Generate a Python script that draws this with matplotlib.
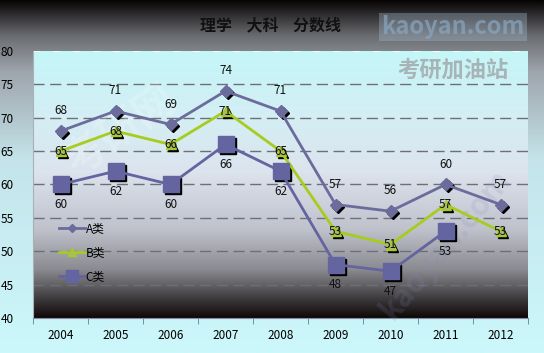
import matplotlib.pyplot as plt
import numpy as np
from matplotlib.colors import LinearSegmentedColormap
from matplotlib.transforms import offset_copy

plt.rcParams['font.family'] = ['Noto Sans CJK SC', 'DejaVu Sans']

years = ['2004', '2005', '2006', '2007', '2008', '2009', '2010', '2011', '2012']
a_scores = [68, 71, 69, 74, 71, 57, 56, 60, 57]
b_scores = [65, 68, 66, 71, 65, 53, 51, 57, 53]
c_scores = [60, 62, 60, 66, 62, 48, 47, 53, None]

fig = plt.figure(figsize=(5.44, 3.53), dpi=100)

# figure background gradient: dark top -> light cyan bottom
bg = fig.add_axes([0, 0, 1, 1], zorder=-10)
bg_cmap = LinearSegmentedColormap.from_list('bg', [(0, '#080404'), (0.1, '#6a6c70'),
                                                   (0.2, '#9ea4ac'), (0.45, '#c4e4ea'),
                                                   (1.0, '#ccf8fb')])
bg.imshow(np.linspace(0, 1, 256)[:, None], aspect='auto', cmap=bg_cmap, extent=[0, 1, 0, 1])
bg.set_axis_off()

ax = fig.add_axes([33 / 544, 1 - 318 / 353, 495 / 544, 267 / 353])
x = np.arange(len(years))
ax.set_xlim(-0.5, len(years) - 0.5)
ax.set_ylim(40, 80)

pa_cmap = LinearSegmentedColormap.from_list('pa', [(0, '#100808'), (0.07, '#3c3a3c'),
                                                   (0.18, '#8a8a90'), (0.33, '#bfc1cb'),
                                                   (0.55, '#dce4ee'), (0.75, '#d4eef4'),
                                                   (1.0, '#c4f6f8')])
ax.imshow(np.linspace(0, 1, 256)[:, None], aspect='auto', cmap=pa_cmap, origin='lower',
          extent=[-0.5, len(years) - 0.5, 40, 80], zorder=0)

for yv in range(45, 80, 5):
    ax.axhline(yv, color='#6e6e78', lw=1, ls=(0, (8, 4)), zorder=1)
ax.axhline(80, color='white', lw=1.2, ls=(0, (4, 8)), zorder=1)

# diagonal watermarks
ax.text(1.1, 68, '考研网', fontsize=30, rotation=35, color='white', alpha=0.2,
        ha='center', va='center', fontweight='bold', zorder=1)
ax.text(7.0, 51, 'kaoyan.com', fontsize=22, rotation=50, color='#8888bb', alpha=0.16,
        ha='center', va='center', fontweight='bold', zorder=1)

ca = '#6c6c9c'
cb = '#a6cc1e'
cc = '#6464a0'
cx = [i for i, v in enumerate(c_scores) if v is not None]
cv = [v for v in c_scores if v is not None]

# marker shadows
sh = offset_copy(ax.transData, fig=fig, x=2, y=-2, units='dots')
ax.plot(x, a_scores, ls='none', marker='D', ms=6, color='black', transform=sh, zorder=2)
ax.plot(x, b_scores, ls='none', marker='^', ms=7, color='black', transform=sh, zorder=2)
ax.plot(cx, cv, ls='none', marker='s', ms=12, color='black', transform=sh, zorder=2)

ax.plot(x, a_scores, color=ca, lw=2, marker='D', ms=6, mfc=ca, mec=ca, zorder=3, label='A类')
ax.plot(x, b_scores, color=cb, lw=2, marker='^', ms=7, mfc='#aabb66', mec=cb, zorder=3, label='B类')
ax.plot(cx, cv, color=cc, lw=2, marker='s', ms=12, mfc=cc, mec=cc, zorder=3, label='C类')

for i, v in enumerate(a_scores):
    ax.annotate(str(v), (i, v), xytext=(0, 10), textcoords='offset points',
                ha='center', va='bottom', fontsize=8.5, color='#111111', zorder=4)
for i, v in enumerate(b_scores):
    ax.annotate(str(v), (i, v), xytext=(0, 0), textcoords='offset points',
                ha='center', va='center', fontsize=8.5, color='#111111', zorder=4)
for i, v in zip(cx, cv):
    ax.annotate(str(v), (i, v), xytext=(0, -10), textcoords='offset points',
                ha='center', va='top', fontsize=8.5, color='#111111', zorder=4)

ax.set_xticks(x)
ax.set_xticklabels(years, fontsize=8.5)
ax.set_xticks(np.arange(-0.5, len(years)), minor=True)
ax.tick_params(axis='x', which='major', length=0, pad=8)
ax.tick_params(axis='x', which='minor', length=4, color='#6080a0', direction='out')
ax.set_yticks(range(40, 81, 5))
ax.tick_params(axis='y', labelsize=8.5, length=0, pad=14)
for s in ['top', 'right']:
    ax.spines[s].set_visible(False)
ax.spines['left'].set_color('#aab0b8')
ax.spines['bottom'].set_color('#8090a0')

ax.legend(loc='upper left', bbox_to_anchor=(0.04, 0.38), frameon=False,
          fontsize=8.5, handlelength=2.2, labelspacing=0.9, handletextpad=0.1,
          borderpad=0, markerscale=0.75)

fig.text(270 / 544, 1 - 25 / 353, '理学    大科    分数线', fontsize=11.5, fontweight='bold',
         ha='center', va='center', color='#111111')
fig.text(453 / 544, 1 - 27 / 353, 'kaoyan.com', fontsize=17, color='#8aa6c0', alpha=0.7,
         ha='center', va='center', fontweight='bold',
         bbox=dict(boxstyle='square,pad=0.1', fc='#a6bccf', ec='none', alpha=0.35))
fig.text(453 / 544, 1 - 70 / 353, '考研加油站', fontsize=16, color='#9a9a9a', alpha=0.7,
         ha='center', va='center', fontweight='bold')

fig.savefig('out.png', dpi=100)
